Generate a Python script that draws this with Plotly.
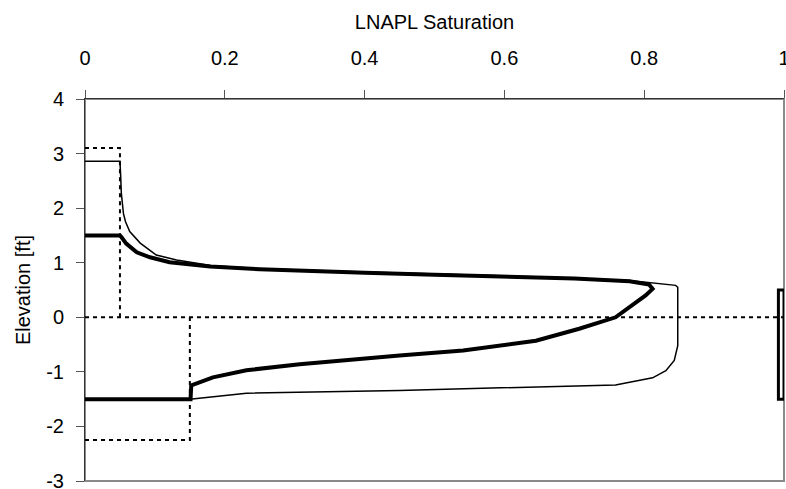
import plotly.graph_objects as go

# Thin profile (LNAPL saturation vs elevation)
thin_x = [0.0, 0.05, 0.051, 0.052, 0.055, 0.058, 0.064, 0.079, 0.102, 0.131, 0.18, 0.25,
          0.4, 0.507, 0.65, 0.779, 0.82, 0.845, 0.848, 0.848, 0.843, 0.831, 0.812,
          0.759, 0.45, 0.231, 0.15, 0.0]
thin_y = [2.86, 2.86, 2.6, 2.27, 1.9, 1.75, 1.57, 1.36, 1.14, 1.05, 0.95, 0.89,
          0.83, 0.79, 0.74, 0.675, 0.615, 0.585, 0.55, -0.52, -0.79, -0.98, -1.11,
          -1.24, -1.34, -1.39, -1.5, -1.5]

# Thick profile
thick_x = [0.0, 0.05, 0.052, 0.059, 0.074, 0.093, 0.121, 0.179, 0.25, 0.3, 0.4, 0.5,
           0.6, 0.7, 0.779, 0.807, 0.812, 0.802, 0.759, 0.707, 0.645, 0.541, 0.45,
           0.307, 0.231, 0.183, 0.152, 0.151, 0.0]
thick_y = [1.5, 1.5, 1.47, 1.35, 1.19, 1.10, 1.01, 0.93, 0.88, 0.855, 0.815, 0.78,
           0.75, 0.71, 0.66, 0.6, 0.52, 0.4, 0.0, -0.21, -0.43, -0.61, -0.70,
           -0.86, -0.97, -1.10, -1.25, -1.5, -1.5]

# Dotted step profiles
dot1_x = [0.0, 0.05, 0.05]
dot1_y = [3.1, 3.1, 0.0]
dot2_x = [0.0, 1.0]
dot2_y = [0.0, 0.0]
dot3_x = [0.0, 0.15, 0.15]
dot3_y = [-2.25, -2.25, 0.0]

# Well screen box
box_x = [1.0, 0.992, 0.992, 1.0, 1.0]
box_y = [0.5, 0.5, -1.5, -1.5, 0.5]

x_ticks = [0, 0.2, 0.4, 0.6, 0.8, 1]
x_ticklabels = ["0", "0.2", "0.4", "0.6", "0.8", "1"]
y_ticks = [-3, -2, -1, 0, 1, 2, 3, 4]
y_ticklabels = ["-3", "-2", "-1", "0", "1", "2", "3", "4"]

fig = go.Figure()
dot = dict(color="black", width=2, dash="4px,4px")
fig.add_trace(go.Scatter(x=dot2_x, y=dot2_y, mode="lines", line=dot))
fig.add_trace(go.Scatter(x=dot1_x, y=dot1_y, mode="lines", line=dot))
fig.add_trace(go.Scatter(x=dot3_x, y=dot3_y, mode="lines", line=dot))
fig.add_trace(go.Scatter(x=thin_x, y=thin_y, mode="lines",
                         line=dict(color="black", width=1.5)))
fig.add_trace(go.Scatter(x=thick_x, y=thick_y, mode="lines",
                         line=dict(color="black", width=4)))
fig.add_trace(go.Scatter(x=box_x, y=box_y, mode="lines",
                         line=dict(color="black", width=3)))

font = dict(family="Liberation Sans, Arial, sans-serif", size=20, color="black")

fig.update_layout(
    width=786, height=489,
    margin=dict(l=85, r=2, t=99, b=8),
    plot_bgcolor="white", paper_bgcolor="white",
    showlegend=False,
    font=font,
    shapes=[dict(type="rect", xref="paper", yref="paper", x0=0, x1=1, y0=0, y1=1,
                 line=dict(color="#8a8a8a", width=2), layer="below")],
)
fig.update_xaxes(
    range=[0, 1], side="top", tickvals=x_ticks, ticktext=x_ticklabels,
    showgrid=False, zeroline=False, showline=True, linecolor="#333333", linewidth=1,
    ticks="outside", ticklen=8, tickcolor="#555555", ticklabelstandoff=17,
    ticklabeloverflow="allow", automargin=False,
    title=dict(text="LNAPL Saturation", standoff=12, font=font),
)
fig.update_yaxes(
    range=[-3, 4], tickvals=y_ticks, ticktext=y_ticklabels,
    showgrid=False, zeroline=False, showline=True, linecolor="#333333", linewidth=1,
    ticks="outside", ticklen=8, tickcolor="#555555", ticklabelstandoff=8,
    ticklabeloverflow="allow", automargin=False,
    title=dict(text="Elevation [ft]", standoff=10, font=font),
)

fig.write_html("out.html")
